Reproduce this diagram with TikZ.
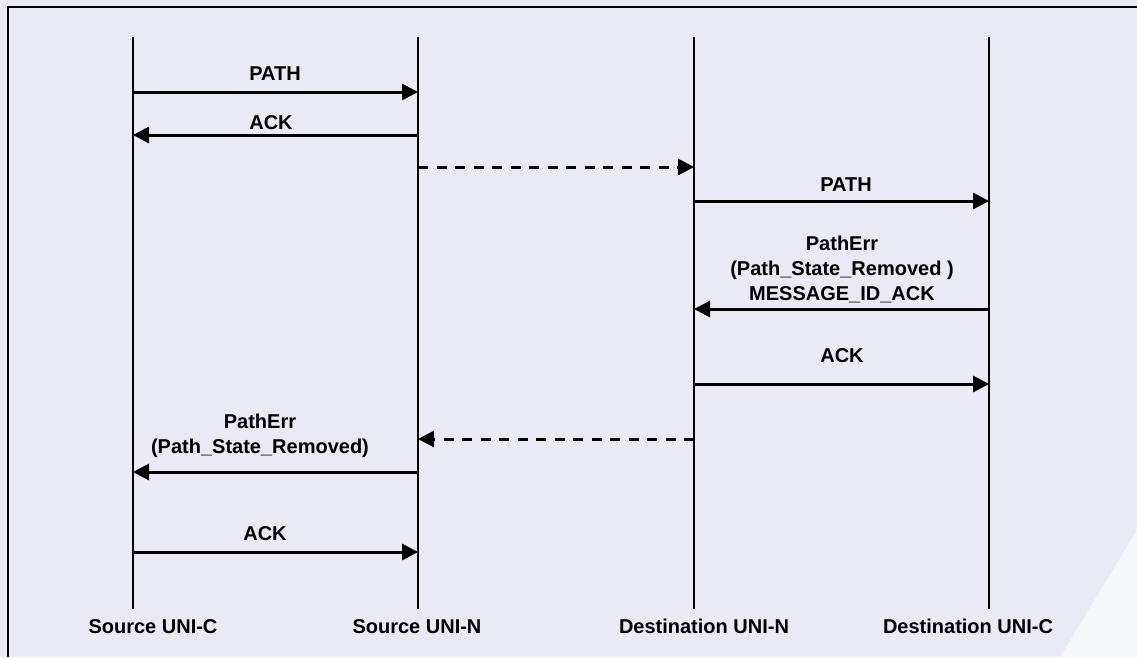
\documentclass[tikz,border=0pt]{standalone}
\usepackage{fontspec}
\setmainfont{Liberation Sans}
\usepackage{xcolor}
\definecolor{bgcolor}{RGB}{233, 234, 244}
\definecolor{fadecolor}{RGB}{246, 247, 251}
\usetikzlibrary{arrows.meta}

\begin{document}
\begin{tikzpicture}[x=1pt, y=-1pt,
		life/.style={line width=2pt},
		msg/.style={line width=3pt, -{Triangle[length=16pt, width=16pt]}},
		fwd/.style={msg, dash pattern=on 10pt off 8.5pt},
		lbl/.style={font=\bfseries\fontsize{20}{25}\selectfont, align=center, anchor=base, inner sep=0pt}]
		\fill[bgcolor] (0,0) rectangle (1137,657);
		\useasboundingbox (0,0) rectangle (1137,657);
		\fill[fadecolor] (1137,530) -- (1137,657) -- (1060,657) -- cycle;
		\draw[line width=2.5pt] (8,657) |- (1137,7);
		% lifelines
		\coordinate (srcC) at (133,37);
		\coordinate (srcN) at (418,37);
		\coordinate (dstN) at (694,37);
		\coordinate (dstC) at (989,37);
		\coordinate (bot) at (0,609);
		\draw[life] (srcC) -- (srcC |- bot);
		\draw[life] (srcN) -- (srcN |- bot);
		\draw[life] (dstN) -- (dstN |- bot);
		\draw[life] (dstC) -- (dstC |- bot);
		\node[lbl] (srcClbl) at (153,633) {Source UNI-C};
		\node[lbl] (srcNlbl) at (417,633) {Source UNI-N};
		\node[lbl] (dstNlbl) at (704,633) {Destination UNI-N};
		\node[lbl] (dstClbl) at (968,633) {Destination UNI-C};
		% messages
		\coordinate (m1) at (0,92);
		\coordinate (m2) at (0,135);
		\coordinate (m3) at (0,167);
		\coordinate (m4) at (0,201);
		\coordinate (m5) at (0,309);
		\coordinate (m6) at (0,384);
		\coordinate (m7) at (0,439);
		\coordinate (m8) at (0,472);
		\coordinate (m9) at (0,552);
		\draw[msg] (srcC |- m1) -- (srcN |- m1);
		\node[lbl] (path1) at (275,80) {PATH};
		\draw[msg] (srcN |- m2) -- (srcC |- m2);
		\node[lbl] (ack1) at (271,129) {ACK};
		\draw[fwd] (srcN |- m3) -- (dstN |- m3);
		\draw[msg] (dstN |- m4) -- (dstC |- m4);
		\node[lbl] (path2) at (846,191) {PATH};
		\draw[msg] (dstC |- m5) -- (dstN |- m5);
		\node[lbl] (err1) at (842,300) {PathErr\\(Path\_State\_Removed )\\MESSAGE\_ID\_ACK};
		\draw[msg] (dstN |- m6) -- (dstC |- m6);
		\node[lbl] (ack2) at (842,362) {ACK};
		\draw[fwd] (dstN |- m7) -- (srcN |- m7);
		\draw[msg] (srcN |- m8) -- (srcC |- m8);
		\node[lbl] (err2) at (260,453) {PathErr\\(Path\_State\_Removed)};
		\draw[msg] (srcC |- m9) -- (srcN |- m9);
		\node[lbl] (ack3) at (265,540) {ACK};
\end{tikzpicture}
\end{document}
